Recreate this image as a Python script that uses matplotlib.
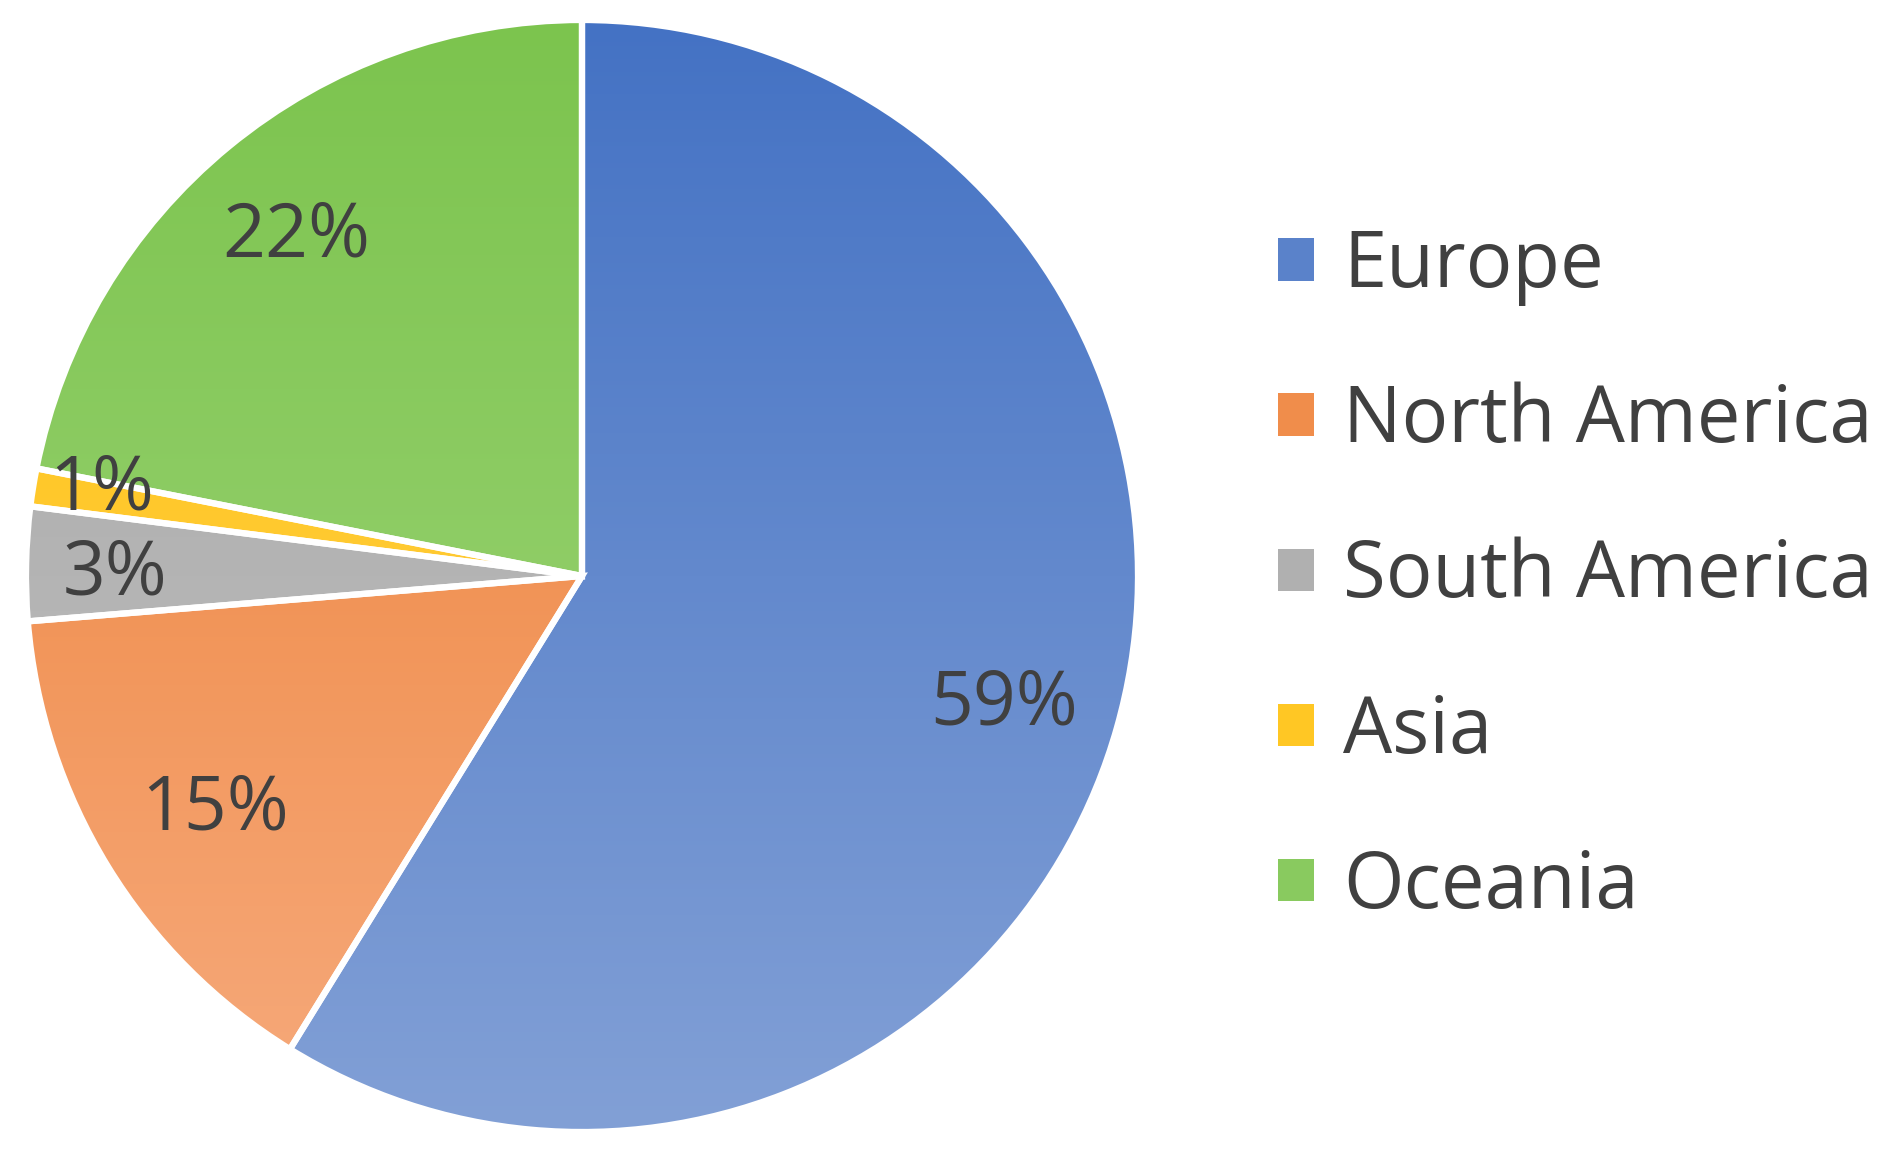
import matplotlib.pyplot as plt
import numpy as np
from matplotlib.colors import to_rgb, LinearSegmentedColormap
from matplotlib.patches import Patch

# data (shares in %, labels are rounded)
regions = ["Europe", "North America", "South America", "Asia", "Oceania"]
shares = [58.8, 14.9, 3.3, 1.1, 21.9]

top_colors = ["#4472C4", "#ED7D31", "#A5A5A5", "#FFC000", "#7CC44E"]
bottom_colors = ["#82A0D6", "#F6AA7C", "#C3C3C3", "#FFD466", "#A2D67E"]
label_dist = [0.79, 0.775, 0.84, 0.88, 0.81]
label_turn = [0, 0, 0, -2.0, 0]   # degrees, small label nudges

plt.rcParams['font.family'] = ['Open Sans', 'DejaVu Sans']

fig = plt.figure(figsize=(18.99, 11.52), dpi=100)
ax = fig.add_axes([26/1899, 20/1152, 1112/1899, 1112/1152])

wedges, texts, autotexts = ax.pie(shares, startangle=90, counterclock=False,
                                  autopct='%1.0f%%', pctdistance=0.8,
                                  wedgeprops=dict(edgecolor='white', linewidth=4.5),
                                  textprops=dict(fontsize=54, color='#404040'))

# vertical gradient fill, dark at top, light at bottom
grad = np.linspace(0, 1, 256).reshape(-1, 1)
for w, c1, c2 in zip(wedges, top_colors, bottom_colors):
    cmap = LinearSegmentedColormap.from_list('g', [to_rgb(c2), to_rgb(c1)])
    im = ax.imshow(grad, cmap=cmap, extent=[-1, 1, -1, 1], origin='lower',
                   aspect='auto', zorder=w.get_zorder() - 0.1)
    im.set_clip_path(w)
    w.set_facecolor('none')

# move the percent labels a little, like the original
for w, t, d, a in zip(wedges, autotexts, label_dist, label_turn):
    ang = np.deg2rad((w.theta1 + w.theta2) / 2 + a)
    t.set_position((d * np.cos(ang), d * np.sin(ang)))
    t.set_va('center_baseline')
    t.set_zorder(5)

ax.set_xlim(-1.0, 1.0)
ax.set_ylim(-1.0, 1.0)
ax.set_aspect('equal')
ax.axis('off')

mid_colors = [tuple(0.65 * np.array(to_rgb(a)) + 0.35 * np.array(to_rgb(b)))
              for a, b in zip(top_colors, bottom_colors)]
handles = [Patch(facecolor=c, edgecolor='none') for c in mid_colors]
fig.legend(handles, regions, loc='center left', bbox_to_anchor=(1278/1899, 1 - 577/1152),
           frameon=False, fontsize=56, handlelength=0.46, handleheight=0.46,
           handletextpad=0.38, labelspacing=0.98, borderpad=0, borderaxespad=0,
           labelcolor='#404040')

fig.savefig('out.png', dpi=100, facecolor='white')
